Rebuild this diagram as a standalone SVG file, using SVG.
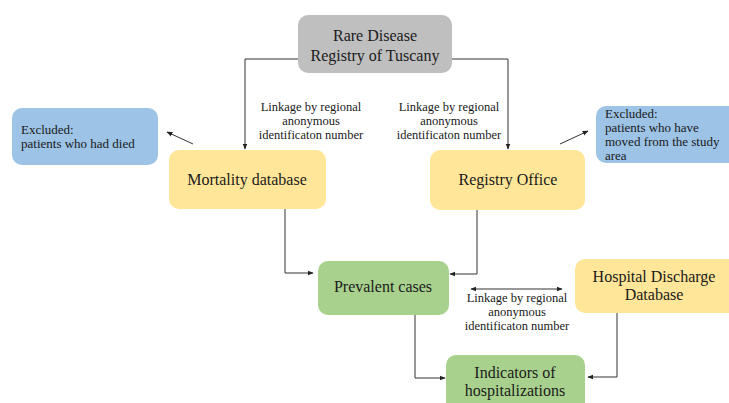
<svg xmlns="http://www.w3.org/2000/svg" width="729" height="403" viewBox="0 0 729 403">
<style>
text{font-family:'Liberation Serif','DejaVu Serif',serif;fill:#1a1a1a}
.big{font-size:16px;text-anchor:middle}
.lbl{font-size:12.5px;text-anchor:middle}
.ex{font-size:13px}
.gray{fill:#bfbfbf}
.yel{fill:#ffe699}
.grn{fill:#a9d18e}
.blu{fill:#9dc3e6}
.ln{fill:none;stroke:#333;stroke-width:1}
</style>
<defs>
<marker id="ah" viewBox="0 0 10 10" refX="9" refY="5" markerWidth="6" markerHeight="6" orient="auto-start-reverse">
<path d="M0,1 L10,5 L0,9 Z" fill="#222"/>
</marker>
</defs>
<rect width="729" height="403" fill="#fff"/>
<g id="connectors">
<polyline class="ln" points="299,59 245,59 245,149" marker-end="url(#ah)"/>
<polyline class="ln" points="452,59 508,59 508,149" marker-end="url(#ah)"/>
<line class="ln" x1="193" y1="144" x2="167" y2="132" marker-end="url(#ah)"/>
<line class="ln" x1="560" y1="144" x2="588" y2="131" marker-end="url(#ah)"/>
<polyline class="ln" points="285,209 285,273 313,273" marker-end="url(#ah)"/>
<polyline class="ln" points="477,210 477,274 450,274" marker-end="url(#ah)"/>
<line class="ln" x1="471" y1="289" x2="562" y2="289" marker-start="url(#ah)" marker-end="url(#ah)"/>
<polyline class="ln" points="415,315 415,378 445,378" marker-end="url(#ah)"/>
<polyline class="ln" points="617,313 617,377 588,377" marker-end="url(#ah)"/>
<text class="lbl" x="311" y="111">Linkage by regional</text>
<text class="lbl" x="311" y="125">anonymous</text>
<text class="lbl" x="311" y="139">identificaton number</text>
<text class="lbl" x="449" y="111">Linkage by regional</text>
<text class="lbl" x="449" y="125">anonymous</text>
<text class="lbl" x="449" y="139">identificaton number</text>
<text class="lbl" x="517" y="302">Linkage by regional</text>
<text class="lbl" x="517" y="316">anonymous</text>
<text class="lbl" x="517" y="330">identificaton number</text>
</g>
<g id="rare-disease-registry">
<rect class="gray" x="298" y="15" width="154" height="58" rx="10"/>
<text class="big" x="375" y="41">Rare Disease</text>
<text class="big" x="375" y="61">Registry of Tuscany</text>
</g>
<g id="excluded-died">
<rect class="blu" x="12" y="108" width="146" height="57" rx="10"/>
<text class="ex" x="21" y="134">Excluded:</text>
<text class="ex" x="21" y="148">patients who had died</text>
</g>
<g id="mortality-database">
<rect class="yel" x="169" y="150" width="157" height="59" rx="10"/>
<text class="big" x="247" y="185">Mortality database</text>
</g>
<g id="registry-office">
<rect class="yel" x="430" y="150" width="155" height="60" rx="10"/>
<text class="big" x="508" y="185">Registry Office</text>
</g>
<g id="excluded-moved">
<rect class="blu" x="596" y="106" width="145" height="57" rx="10"/>
<text class="ex" x="605" y="118">Excluded:</text>
<text class="ex" x="605" y="132">patients who have</text>
<text class="ex" x="605" y="146">moved from the study</text>
<text class="ex" x="605" y="160">area</text>
</g>
<g id="prevalent-cases">
<rect class="grn" x="318" y="261" width="131" height="54" rx="10"/>
<text class="big" x="383" y="292">Prevalent cases</text>
</g>
<g id="hospital-discharge-database">
<rect class="yel" x="575" y="259" width="165" height="54" rx="10"/>
<text class="big" x="654" y="282">Hospital Discharge</text>
<text class="big" x="654" y="300">Database</text>
</g>
<g id="indicators-of-hospitalizations">
<rect class="grn" x="446" y="355" width="139" height="60" rx="10"/>
<text class="big" x="515" y="378">Indicators of</text>
<text class="big" x="515" y="396">hospitalizations</text>
</g>
</svg>
